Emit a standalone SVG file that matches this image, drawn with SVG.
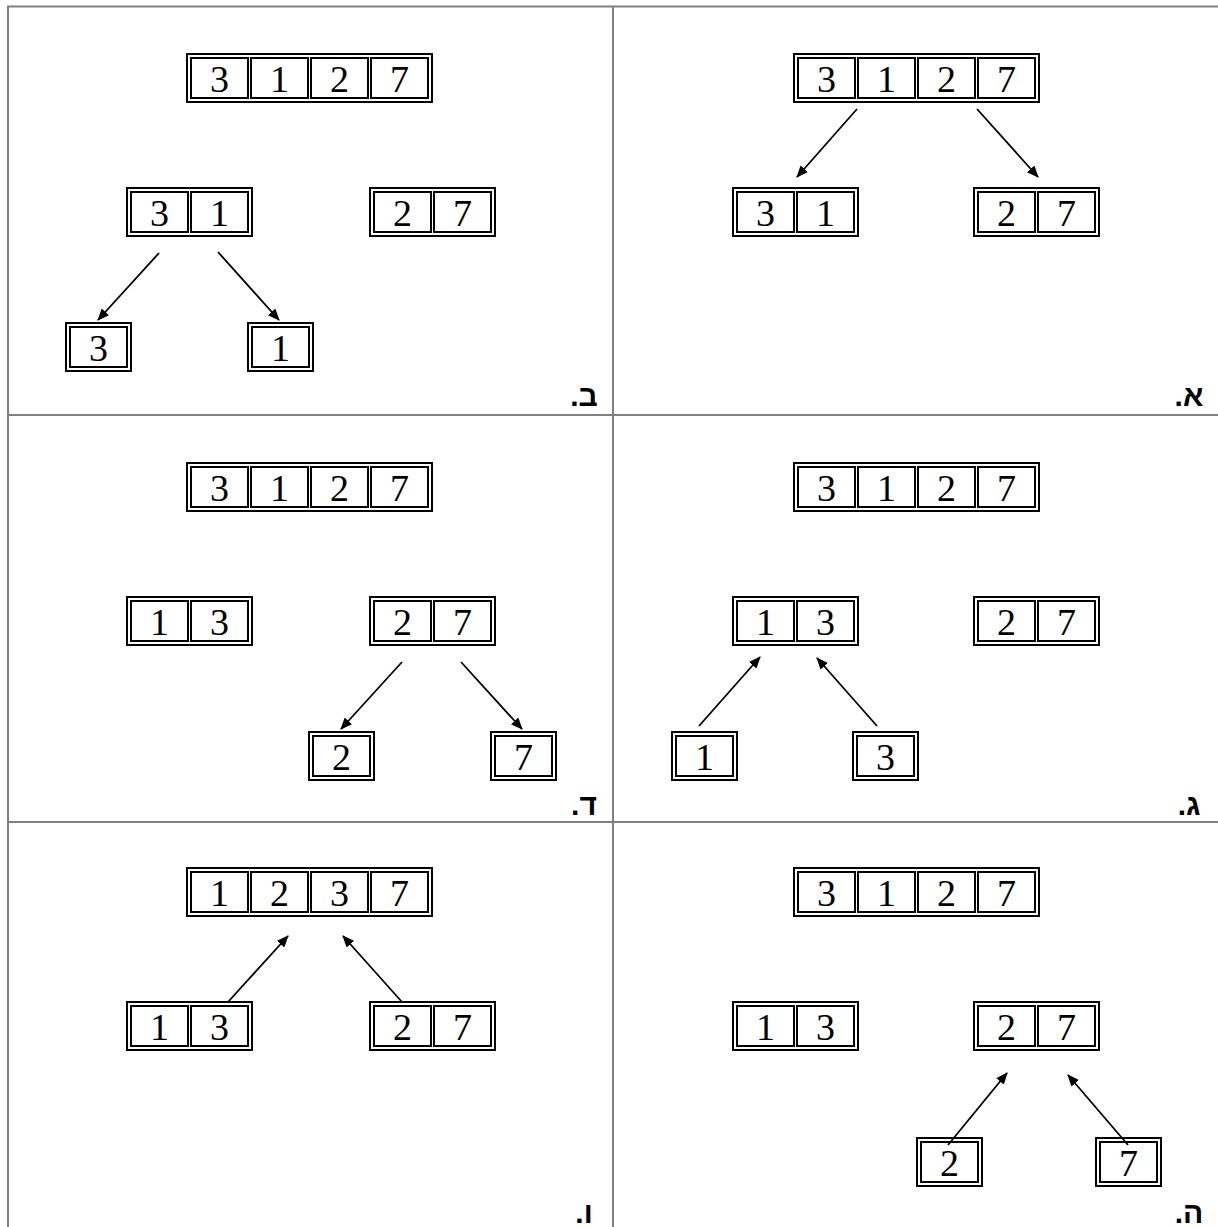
<svg xmlns="http://www.w3.org/2000/svg" width="1218" height="1227" viewBox="0 0 1218 1227">
<style>
.o{fill:none;stroke:#000;stroke-width:2}
.c{fill:none;stroke:#000;stroke-width:2}
.t{font-family:"Liberation Serif","Times New Roman",serif;font-size:38px;text-anchor:middle;fill:#000}
.g{stroke:#808080;stroke-width:2;fill:none}
.a{stroke:#000;stroke-width:1.8;fill:none;marker-end:url(#ah)}
.l{font-family:"Liberation Sans","DejaVu Sans",sans-serif;font-size:30px;font-weight:bold;text-anchor:middle;direction:rtl;fill:#000}
</style>
<defs>
<marker id="ah" viewBox="0 0 12 10" refX="11" refY="5" markerWidth="12" markerHeight="10" markerUnits="userSpaceOnUse" orient="auto">
<path d="M0,0 L12,5 L0,10 Z" fill="#000"/>
</marker>
</defs>
<g id="grid">
<line class="g" x1="8" y1="6" x2="8" y2="1227"/>
<line class="g" x1="613" y1="6" x2="613" y2="1227"/>
<line class="g" x1="7" y1="6.5" x2="1218" y2="6.5"/>
<line class="g" x1="7" y1="415" x2="1218" y2="415"/>
<line class="g" x1="7" y1="822" x2="1218" y2="822"/>
</g>
<g id="labels">
<text class="l" x="1189" y="406">א.</text>
<text class="l" x="584" y="406">ב.</text>
<text class="l" x="1189" y="815">ג.</text>
<text class="l" x="584" y="815">ד.</text>
<text class="l" x="1189" y="1223">ה.</text>
<text class="l" x="584" y="1223">ו.</text>
</g>
<!-- Panel א -->
<g id="a-top"><rect class="o" x="794" y="54" width="245" height="48"/><rect class="c" x="798" y="58" width="57" height="40"/><rect class="c" x="858" y="58" width="57" height="40"/><rect class="c" x="918" y="58" width="57" height="40"/><rect class="c" x="978" y="58" width="57" height="40"/><text class="t" x="826.5" y="92">3</text><text class="t" x="886.5" y="92">1</text><text class="t" x="946.5" y="92">2</text><text class="t" x="1006.5" y="92">7</text></g>
<g id="a-31"><rect class="o" x="733" y="188" width="125" height="48"/><rect class="c" x="737" y="192" width="57" height="40"/><rect class="c" x="797" y="192" width="57" height="40"/><text class="t" x="765.5" y="226">3</text><text class="t" x="825.5" y="226">1</text></g>
<g id="a-27"><rect class="o" x="974" y="188" width="125" height="48"/><rect class="c" x="978" y="192" width="57" height="40"/><rect class="c" x="1038" y="192" width="57" height="40"/><text class="t" x="1006.5" y="226">2</text><text class="t" x="1066.5" y="226">7</text></g>
<!-- Panel ב -->
<g id="b-top"><rect class="o" x="187" y="54" width="245" height="48"/><rect class="c" x="191" y="58" width="57" height="40"/><rect class="c" x="251" y="58" width="57" height="40"/><rect class="c" x="311" y="58" width="57" height="40"/><rect class="c" x="371" y="58" width="57" height="40"/><text class="t" x="219.5" y="92">3</text><text class="t" x="279.5" y="92">1</text><text class="t" x="339.5" y="92">2</text><text class="t" x="399.5" y="92">7</text></g>
<g id="b-31"><rect class="o" x="127" y="188" width="125" height="48"/><rect class="c" x="131" y="192" width="57" height="40"/><rect class="c" x="191" y="192" width="57" height="40"/><text class="t" x="159.5" y="226">3</text><text class="t" x="219.5" y="226">1</text></g>
<g id="b-27"><rect class="o" x="370" y="188" width="125" height="48"/><rect class="c" x="374" y="192" width="57" height="40"/><rect class="c" x="434" y="192" width="57" height="40"/><text class="t" x="402.5" y="226">2</text><text class="t" x="462.5" y="226">7</text></g>
<g id="b-3"><rect class="o" x="66" y="323" width="65" height="48"/><rect class="c" x="70" y="327" width="57" height="40"/><text class="t" x="98.5" y="361">3</text></g>
<g id="b-1"><rect class="o" x="248" y="323" width="65" height="48"/><rect class="c" x="252" y="327" width="57" height="40"/><text class="t" x="280.5" y="361">1</text></g>
<!-- Panel ג -->
<g id="c-top"><rect class="o" x="794" y="463" width="245" height="48"/><rect class="c" x="798" y="467" width="57" height="40"/><rect class="c" x="858" y="467" width="57" height="40"/><rect class="c" x="918" y="467" width="57" height="40"/><rect class="c" x="978" y="467" width="57" height="40"/><text class="t" x="826.5" y="501">3</text><text class="t" x="886.5" y="501">1</text><text class="t" x="946.5" y="501">2</text><text class="t" x="1006.5" y="501">7</text></g>
<g id="c-13"><rect class="o" x="733" y="597" width="125" height="48"/><rect class="c" x="737" y="601" width="57" height="40"/><rect class="c" x="797" y="601" width="57" height="40"/><text class="t" x="765.5" y="635">1</text><text class="t" x="825.5" y="635">3</text></g>
<g id="c-27"><rect class="o" x="974" y="597" width="125" height="48"/><rect class="c" x="978" y="601" width="57" height="40"/><rect class="c" x="1038" y="601" width="57" height="40"/><text class="t" x="1006.5" y="635">2</text><text class="t" x="1066.5" y="635">7</text></g>
<g id="c-1"><rect class="o" x="672" y="732" width="65" height="48"/><rect class="c" x="676" y="736" width="57" height="40"/><text class="t" x="704.5" y="770">1</text></g>
<g id="c-3"><rect class="o" x="853" y="732" width="65" height="48"/><rect class="c" x="857" y="736" width="57" height="40"/><text class="t" x="885.5" y="770">3</text></g>
<!-- Panel ד -->
<g id="d-top"><rect class="o" x="187" y="463" width="245" height="48"/><rect class="c" x="191" y="467" width="57" height="40"/><rect class="c" x="251" y="467" width="57" height="40"/><rect class="c" x="311" y="467" width="57" height="40"/><rect class="c" x="371" y="467" width="57" height="40"/><text class="t" x="219.5" y="501">3</text><text class="t" x="279.5" y="501">1</text><text class="t" x="339.5" y="501">2</text><text class="t" x="399.5" y="501">7</text></g>
<g id="d-13"><rect class="o" x="127" y="597" width="125" height="48"/><rect class="c" x="131" y="601" width="57" height="40"/><rect class="c" x="191" y="601" width="57" height="40"/><text class="t" x="159.5" y="635">1</text><text class="t" x="219.5" y="635">3</text></g>
<g id="d-27"><rect class="o" x="370" y="597" width="125" height="48"/><rect class="c" x="374" y="601" width="57" height="40"/><rect class="c" x="434" y="601" width="57" height="40"/><text class="t" x="402.5" y="635">2</text><text class="t" x="462.5" y="635">7</text></g>
<g id="d-2"><rect class="o" x="309" y="732" width="65" height="48"/><rect class="c" x="313" y="736" width="57" height="40"/><text class="t" x="341.5" y="770">2</text></g>
<g id="d-7"><rect class="o" x="491" y="732" width="65" height="48"/><rect class="c" x="495" y="736" width="57" height="40"/><text class="t" x="523.5" y="770">7</text></g>
<!-- Panel ה -->
<g id="e-top"><rect class="o" x="794" y="868" width="245" height="48"/><rect class="c" x="798" y="872" width="57" height="40"/><rect class="c" x="858" y="872" width="57" height="40"/><rect class="c" x="918" y="872" width="57" height="40"/><rect class="c" x="978" y="872" width="57" height="40"/><text class="t" x="826.5" y="906">3</text><text class="t" x="886.5" y="906">1</text><text class="t" x="946.5" y="906">2</text><text class="t" x="1006.5" y="906">7</text></g>
<g id="e-13"><rect class="o" x="733" y="1002" width="125" height="48"/><rect class="c" x="737" y="1006" width="57" height="40"/><rect class="c" x="797" y="1006" width="57" height="40"/><text class="t" x="765.5" y="1040">1</text><text class="t" x="825.5" y="1040">3</text></g>
<g id="e-27"><rect class="o" x="974" y="1002" width="125" height="48"/><rect class="c" x="978" y="1006" width="57" height="40"/><rect class="c" x="1038" y="1006" width="57" height="40"/><text class="t" x="1006.5" y="1040">2</text><text class="t" x="1066.5" y="1040">7</text></g>
<g id="e-2"><rect class="o" x="917" y="1138" width="65" height="48"/><rect class="c" x="921" y="1142" width="57" height="40"/><text class="t" x="949.5" y="1176">2</text></g>
<g id="e-7"><rect class="o" x="1096" y="1138" width="65" height="48"/><rect class="c" x="1100" y="1142" width="57" height="40"/><text class="t" x="1128.5" y="1176">7</text></g>
<!-- Panel ו -->
<g id="f-top"><rect class="o" x="187" y="868" width="245" height="48"/><rect class="c" x="191" y="872" width="57" height="40"/><rect class="c" x="251" y="872" width="57" height="40"/><rect class="c" x="311" y="872" width="57" height="40"/><rect class="c" x="371" y="872" width="57" height="40"/><text class="t" x="219.5" y="906">1</text><text class="t" x="279.5" y="906">2</text><text class="t" x="339.5" y="906">3</text><text class="t" x="399.5" y="906">7</text></g>
<g id="f-13"><rect class="o" x="127" y="1002" width="125" height="48"/><rect class="c" x="131" y="1006" width="57" height="40"/><rect class="c" x="191" y="1006" width="57" height="40"/><text class="t" x="159.5" y="1040">1</text><text class="t" x="219.5" y="1040">3</text></g>
<g id="f-27"><rect class="o" x="370" y="1002" width="125" height="48"/><rect class="c" x="374" y="1006" width="57" height="40"/><rect class="c" x="434" y="1006" width="57" height="40"/><text class="t" x="402.5" y="1040">2</text><text class="t" x="462.5" y="1040">7</text></g>
<g id="connectors">
<line class="a" x1="857" y1="109" x2="797" y2="177"/>
<line class="a" x1="977" y1="109" x2="1038" y2="177"/>
<line class="a" x1="159" y1="253" x2="98" y2="320"/>
<line class="a" x1="218" y1="252" x2="279" y2="320"/>
<line class="a" x1="699" y1="726" x2="760" y2="657"/>
<line class="a" x1="877" y1="726" x2="817" y2="658"/>
<line class="a" x1="402" y1="662" x2="341" y2="729"/>
<line class="a" x1="461" y1="662" x2="522" y2="729"/>
<line class="a" x1="948" y1="1145" x2="1007" y2="1073"/>
<line class="a" x1="1128" y1="1145" x2="1068" y2="1075"/>
<line class="a" x1="228" y1="1002" x2="288" y2="936"/>
<line class="a" x1="402" y1="1002" x2="343" y2="936"/>
</g>
</svg>
